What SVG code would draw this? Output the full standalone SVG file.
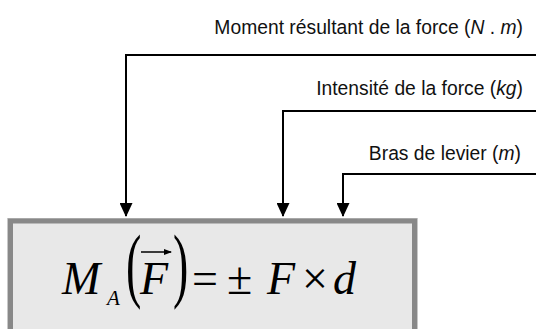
<svg xmlns="http://www.w3.org/2000/svg" width="536" height="329" viewBox="0 0 536 329">
<style>
.lbl{font-family:"Liberation Sans",Arial,sans-serif;font-size:19.3px;fill:#111}
.it{font-style:italic}
.m{font-family:"Liberation Serif","Times New Roman",serif;font-size:46px;fill:#000}
.conn{fill:none;stroke:#000;stroke-width:2}
</style>
<defs>
<marker id="ah" markerWidth="13" markerHeight="14" refX="6.5" refY="13" orient="0" markerUnits="userSpaceOnUse">
<path d="M0,0 L13,0 L6.5,14 Z" fill="#000"/>
</marker>
<marker id="va" markerWidth="8" markerHeight="6" refX="7" refY="3" orient="auto" markerUnits="userSpaceOnUse">
<path d="M0,0 L8,3 L0,6 Z" fill="#000"/>
</marker>
</defs>
<g id="labels">
<text class="lbl" x="523" y="34" text-anchor="end">Moment résultant de la force (<tspan class="it">N</tspan> . <tspan class="it">m</tspan>)</text>
<text class="lbl" x="523" y="95" text-anchor="end">Intensité de la force (<tspan class="it">kg</tspan>)</text>
<text class="lbl" x="521" y="160" text-anchor="end">Bras de levier (<tspan class="it">m</tspan>)</text>
</g>
<g id="connectors">
<path class="conn" d="M536,55 H126 V216" marker-end="url(#ah)"/>
<path class="conn" d="M536,111 H283 V216" marker-end="url(#ah)"/>
<path class="conn" d="M536,174 H343 V216" marker-end="url(#ah)"/>
</g>
<g id="formula-box">
<rect x="7.5" y="218.5" width="410" height="120" fill="none" stroke="#c8c8c8" stroke-width="1"/>
<rect x="10.5" y="221" width="404" height="110.5" fill="#e8e8e8" stroke="#888" stroke-width="5"/>
<text class="m it" x="62" y="294">M</text>
<text class="m it" x="107" y="305" style="font-size:21px">A</text>
<text class="m" transform="translate(126,292) scale(1,1.8)">(</text>
<text class="m it" x="140" y="294">F</text>
<line x1="141" y1="252" x2="171" y2="252" stroke="#000" stroke-width="1.5" marker-end="url(#va)"/>
<text class="m" transform="translate(173,292) scale(1,1.8)">)</text>
<text class="m" x="192" y="294">=</text>
<text class="m" x="227" y="294">±</text>
<text class="m it" x="267" y="294">F</text>
<text class="m" x="302" y="294">×</text>
<text class="m it" x="333" y="294">d</text>
</g>
</svg>
